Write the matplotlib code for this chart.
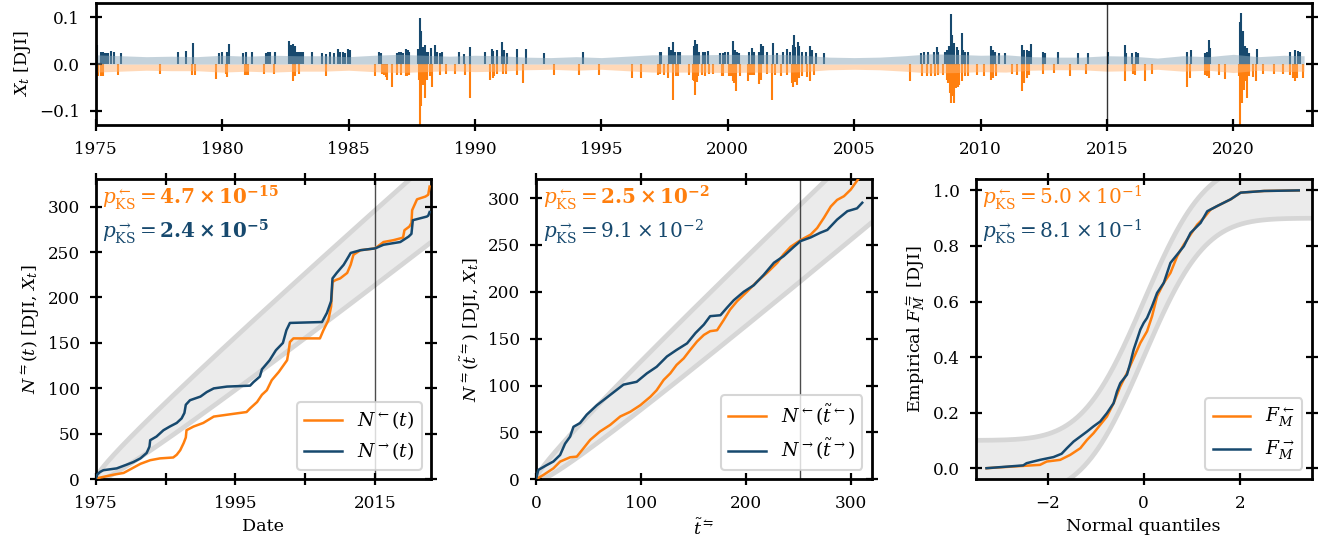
import math
import numpy as np
import matplotlib
matplotlib.use('Agg')
import matplotlib.pyplot as plt

plt.rcParams['font.family'] = ['DejaVu Serif']
plt.rcParams['mathtext.fontset'] = 'dejavuserif'

ORANGE = '#ff7f0e'
BLUE = '#17496e'

# ---------------- top panel data (decimal years, daily log-returns) -------------
pos_ext_t = [1975.04, 1975.20, 1975.27, 1975.33, 1975.40, 1975.47, 1975.62, 1975.73, 1975.99,
             1978.27, 1978.56, 1978.83, 1979.88, 1980.01, 1980.21, 1980.29, 1980.81, 1980.96,
             1981.18, 1981.73, 1981.82, 1981.89, 1982.09, 1982.63, 1982.72, 1982.81, 1982.88,
             1982.98, 1983.05, 1983.11, 1983.19, 1983.55, 1983.94, 1984.11, 1984.27, 1984.44,
             1984.58, 1984.67, 1984.77, 1984.86, 1984.97, 1985.06, 1986.20, 1986.28, 1986.91,
             1987.01, 1987.08, 1987.17, 1987.28, 1987.34, 1987.41, 1987.73, 1987.81, 1987.85,
             1987.88, 1987.95, 1988.02, 1988.10, 1988.16, 1988.25, 1988.43, 1988.52, 1988.60,
             1988.69, 1989.36, 1989.55, 1989.81, 1990.38, 1990.67, 1990.73, 1990.86, 1991.06,
             1991.15, 1991.26, 1991.65, 1992.01, 1992.73, 1994.29, 1997.31, 1997.37, 1997.69,
             1997.74, 1997.85, 1997.91, 1998.05, 1998.11, 1998.68, 1998.72, 1998.80, 1998.86,
             1999.04, 1999.10, 1999.21, 1999.70, 1999.83, 1999.89, 2000.03, 2000.22, 2000.29,
             2000.35, 2000.46, 2000.86, 2000.95, 2001.04, 2001.25, 2001.30, 2001.38, 2001.57,
             2001.78, 2001.96, 2002.17, 2002.36, 2002.46, 2002.57, 2002.61, 2002.66, 2002.79,
             2002.83, 2002.93, 2003.10, 2003.26, 2003.32, 2003.49, 2003.81, 2007.65, 2007.77,
             2007.94, 2008.14, 2008.27, 2008.33, 2008.60, 2008.66, 2008.77, 2008.83, 2008.89,
             2008.97, 2009.06, 2009.12, 2009.26, 2009.32, 2009.39, 2009.49, 2010.42, 2010.48,
             2010.57, 2010.75, 2010.97, 2011.66, 2011.72, 2011.83, 2011.92, 2012.00, 2012.49,
             2012.55, 2013.08, 2013.84, 2014.24, 2015.03, 2015.70, 2015.75, 2015.99, 2016.15,
             2016.23, 2018.17, 2018.33, 2018.87, 2018.96, 2019.02, 2019.09, 2020.28, 2020.32,
             2020.37, 2020.45, 2020.54, 2020.61, 2020.94, 2022.23, 2022.43, 2022.56, 2022.65]
pos_ext_x = [0.040, 0.027, 0.025, 0.023, 0.023, 0.023, 0.029, 0.025, 0.023,
             0.027, 0.028, 0.046, 0.023, 0.025, 0.025, 0.042, 0.023, 0.025,
             0.025, 0.023, 0.025, 0.025, 0.027, 0.050, 0.041, 0.043, 0.038,
             0.027, 0.025, 0.025, 0.025, 0.027, 0.023, 0.022, 0.025, 0.023,
             0.033, 0.025, 0.026, 0.023, 0.032, 0.031, 0.027, 0.023, 0.023,
             0.025, 0.026, 0.023, 0.032, 0.031, 0.025, 0.032, 0.099, 0.071,
             0.032, 0.036, 0.040, 0.025, 0.025, 0.034, 0.040, 0.025, 0.023,
             0.027, 0.025, 0.021, 0.036, 0.025, 0.032, 0.029, 0.031, 0.047,
             0.031, 0.023, 0.032, 0.032, 0.023, 0.025, 0.027, 0.027, 0.036,
             0.031, 0.048, 0.027, 0.027, 0.027, 0.038, 0.052, 0.043, 0.027,
             0.027, 0.025, 0.029, 0.023, 0.023, 0.025, 0.025, 0.050, 0.031,
             0.027, 0.023, 0.025, 0.034, 0.025, 0.027, 0.043, 0.038, 0.025,
             0.046, 0.023, 0.027, 0.032, 0.027, 0.041, 0.063, 0.036, 0.048,
             0.039, 0.027, 0.025, 0.038, 0.031, 0.023, 0.023, 0.023, 0.026,
             0.025, 0.025, 0.036, 0.027, 0.027, 0.031, 0.039, 0.107, 0.062,
             0.045, 0.036, 0.031, 0.067, 0.031, 0.025, 0.027, 0.039, 0.031,
             0.027, 0.023, 0.023, 0.041, 0.031, 0.031, 0.029, 0.043, 0.025,
             0.023, 0.025, 0.023, 0.023, 0.025, 0.041, 0.023, 0.023, 0.027,
             0.023, 0.025, 0.030, 0.023, 0.027, 0.052, 0.034, 0.091, 0.110,
             0.070, 0.039, 0.034, 0.023, 0.032, 0.027, 0.031, 0.029, 0.025]

neg_ext_t = [1975.11, 1975.20, 1975.29, 1975.89, 1977.55, 1978.79, 1978.93, 1979.75, 1980.15,
             1980.21, 1980.90, 1980.96, 1981.04, 1981.64, 1982.07, 1982.81, 1982.89, 1983.05,
             1984.11, 1986.05, 1986.32, 1986.41, 1986.49, 1986.54, 1986.71, 1986.91, 1987.08,
             1987.28, 1987.33, 1987.41, 1987.77, 1987.81, 1987.86, 1987.90, 1987.96, 1988.03,
             1988.10, 1988.23, 1988.29, 1988.60, 1988.85, 1989.22, 1989.61, 1989.81, 1990.60,
             1990.71, 1990.77, 1990.86, 1991.13, 1991.23, 1991.65, 1991.89, 1993.14, 1994.12,
             1994.92, 1996.20, 1996.56, 1997.26, 1997.33, 1997.49, 1997.65, 1997.85, 1997.94,
             1998.02, 1998.47, 1998.61, 1998.67, 1998.71, 1998.77, 1998.84, 1998.97, 1999.10,
             1999.26, 1999.43, 1999.76, 1999.83, 2000.06, 2000.13, 2000.20, 2000.26, 2000.33,
             2000.49, 2000.82, 2000.88, 2000.95, 2001.04, 2001.25, 2001.30, 2001.54, 2001.74,
             2001.87, 2002.10, 2002.36, 2002.53, 2002.60, 2002.66, 2002.75, 2002.83, 2002.93,
             2003.12, 2003.26, 2003.41, 2007.21, 2007.67, 2007.87, 2008.04, 2008.20, 2008.33,
             2008.53, 2008.66, 2008.73, 2008.79, 2008.83, 2008.89, 2008.97, 2009.03, 2009.10,
             2009.16, 2009.26, 2009.39, 2009.52, 2009.85, 2010.15, 2010.42, 2010.51, 2010.60,
             2011.26, 2011.43, 2011.63, 2011.70, 2011.83, 2011.92, 2012.49, 2012.92, 2013.54,
             2014.16, 2015.70, 2016.02, 2016.10, 2016.52, 2016.78, 2018.17, 2018.30, 2018.87,
             2018.96, 2019.05, 2019.42, 2019.68, 2020.21, 2020.28, 2020.34, 2020.41, 2020.47,
             2020.54, 2020.61, 2020.76, 2020.90, 2021.16, 2021.60, 2021.95, 2022.26, 2022.36,
             2022.45, 2022.52, 2022.74]
neg_ext_x = [-0.025, -0.025, -0.026, -0.023, -0.021, -0.024, -0.023, -0.031, -0.022,
             -0.028, -0.023, -0.024, -0.023, -0.022, -0.022, -0.036, -0.025, -0.021,
             -0.025, -0.026, -0.021, -0.024, -0.028, -0.033, -0.048, -0.023, -0.024,
             -0.025, -0.025, -0.023, -0.033, -0.256, -0.090, -0.040, -0.044, -0.072,
             -0.033, -0.025, -0.049, -0.023, -0.021, -0.021, -0.023, -0.072, -0.033,
             -0.030, -0.026, -0.021, -0.021, -0.021, -0.023, -0.040, -0.024, -0.024,
             -0.024, -0.030, -0.029, -0.023, -0.021, -0.023, -0.030, -0.076, -0.025,
             -0.026, -0.023, -0.033, -0.036, -0.065, -0.039, -0.025, -0.023, -0.025,
             -0.021, -0.021, -0.026, -0.025, -0.025, -0.026, -0.035, -0.040, -0.058,
             -0.025, -0.037, -0.023, -0.024, -0.024, -0.042, -0.033, -0.021, -0.076,
             -0.023, -0.025, -0.023, -0.040, -0.048, -0.039, -0.044, -0.030, -0.025,
             -0.028, -0.035, -0.023, -0.035, -0.025, -0.026, -0.025, -0.025, -0.023,
             -0.023, -0.033, -0.040, -0.062, -0.082, -0.069, -0.082, -0.051, -0.048,
             -0.044, -0.037, -0.026, -0.026, -0.023, -0.025, -0.033, -0.030, -0.026,
             -0.021, -0.024, -0.058, -0.040, -0.030, -0.023, -0.021, -0.019, -0.025,
             -0.021, -0.037, -0.021, -0.023, -0.035, -0.021, -0.048, -0.030, -0.023,
             -0.026, -0.030, -0.023, -0.032, -0.026, -0.138, -0.083, -0.055, -0.037,
             -0.072, -0.026, -0.028, -0.035, -0.021, -0.021, -0.021, -0.023, -0.030,
             -0.037, -0.030, -0.030]

band_years = [1975.0, 1976, 1977, 1978, 1979, 1980, 1981, 1982, 1983, 1984, 1985, 1986,
              1987, 1988, 1989, 1990, 1991, 1992, 1993, 1994, 1995, 1996, 1997, 1998,
              1999, 2000, 2001, 2002, 2003, 2004, 2005, 2006, 2007, 2008, 2009, 2010,
              2011, 2012, 2013, 2014, 2015, 2016, 2017, 2018, 2019, 2020, 2021, 2022, 2022.8]
band_pos = [0.020, 0.018, 0.016, 0.017, 0.016, 0.019, 0.017, 0.019, 0.018, 0.018, 0.016, 0.019,
            0.021, 0.019, 0.017, 0.019, 0.018, 0.015, 0.014, 0.016, 0.014, 0.017, 0.020, 0.020,
            0.020, 0.021, 0.020, 0.021, 0.019, 0.015, 0.014, 0.015, 0.018, 0.022, 0.021, 0.019,
            0.020, 0.016, 0.015, 0.015, 0.018, 0.017, 0.013, 0.018, 0.016, 0.021, 0.016, 0.019, 0.018]
band_neg = [-0.017, -0.015, -0.013, -0.014, -0.014, -0.017, -0.015, -0.017, -0.015, -0.015, -0.013, -0.016,
            -0.018, -0.016, -0.014, -0.016, -0.015, -0.012, -0.011, -0.013, -0.011, -0.014, -0.017, -0.017,
            -0.017, -0.018, -0.017, -0.018, -0.016, -0.012, -0.011, -0.012, -0.015, -0.019, -0.018, -0.016,
            -0.017, -0.013, -0.012, -0.012, -0.015, -0.014, -0.011, -0.015, -0.013, -0.018, -0.013, -0.016, -0.015]

# ---------------- bottom-left: counting processes vs date ----------------------
nl_t = [1975.0, 1975.1, 1977.5, 1979.0, 1980.2, 1981.4, 1982.8, 1984.2, 1986.1, 1986.6, 1987.1,
        1987.6, 1987.9, 1988.0, 1989.0, 1990.4, 1991.9, 1994.7, 1996.6, 1997.1, 1998.1, 1998.8,
        1999.5, 2000.2, 2001.2, 2002.4, 2002.6, 2002.8, 2003.3, 2007.1, 2007.6, 2008.3, 2008.7,
        2008.9, 2009.3, 2010.0, 2011.0, 2011.5, 2011.9, 2012.9, 2015.0, 2016.2, 2017.6, 2018.6,
        2019.0, 2019.2, 2019.9, 2020.2, 2020.3, 2021.0, 2022.2, 2022.6, 2022.8]
nl_n = [0, 1, 5, 7, 12, 17, 21, 23, 24, 27, 32,
        40, 46, 54, 58, 62, 69, 72, 74, 78, 85, 93,
        98, 109, 118, 131, 140, 151, 155, 155, 164, 175, 190,
        217, 219, 221, 227, 236, 247, 252, 254, 261, 263, 265,
        266, 274, 278, 282, 296, 308, 311, 313, 322]
nr_t = [1975.0, 1975.2, 1975.6, 1976.1, 1978.0, 1979.4, 1980.4, 1981.4, 1982.3, 1982.7, 1982.8,
        1983.7, 1984.7, 1985.6, 1986.6, 1987.3, 1987.7, 1987.9, 1988.5, 1990.0, 1990.9, 1991.9,
        1993.8, 1997.1, 1997.6, 1998.5, 1998.8, 1999.9, 2000.8, 2001.8, 2002.3, 2002.8, 2007.4,
        2008.1, 2008.7, 2008.9, 2009.5, 2010.5, 2011.2, 2011.5, 2012.9, 2015.0, 2016.2, 2018.6,
        2019.8, 2020.2, 2020.4, 2022.4, 2022.6, 2022.8]
nr_n = [0, 5, 8, 10, 12, 16, 19, 23, 29, 36, 43,
        47, 54, 58, 62, 67, 73, 82, 87, 91, 96, 100,
        102, 103, 107, 113, 121, 131, 142, 150, 164, 172, 173,
        183, 196, 221, 227, 236, 245, 249, 252, 254, 258, 261,
        267, 270, 285, 289, 290, 294]

# ---------------- bottom-middle: counting processes vs transformed time ---------
tl = [0, 7, 16.6, 23, 32.5, 38.9, 45.2, 51.6, 61, 70.7, 80.3, 89.8, 99.4, 109, 115, 121.7, 128,
      134, 140.8, 147, 153.5, 160, 166, 172.6, 179, 185, 191.7, 201, 210.8, 220, 230, 236, 242.7,
      252, 261.8, 268, 274.5, 281, 287, 293.6, 300, 307]
nl_tt = [0, 4.6, 11.7, 18.9, 23.5, 24.2, 33, 42, 51, 58, 67, 72, 79, 88, 95, 106, 113,
         122, 129, 138, 147, 154, 158, 159, 170, 181, 190, 200, 211, 220, 231, 240, 248,
         255, 261, 268, 279, 291, 298, 302, 309, 320]
tr = [0, 2.2, 10, 16.6, 23, 27.7, 32.5, 35.7, 42, 48.4, 58, 70.7, 83.4, 96, 105.7, 115, 124.8,
      134, 144, 152, 160, 166, 175.8, 182, 188.5, 198, 207.6, 217, 226.8, 236, 245.8, 252,
      261.8, 271, 277.7, 287, 296.8, 306, 311]
nr_tt = [0, 10, 15, 19, 26, 38, 45.5, 56, 60, 69, 79, 90, 101, 104, 113, 120, 131,
         138, 145, 156, 165, 174, 175, 183, 191, 200, 207, 218, 231, 238, 248, 254,
         258, 263, 266, 277, 286, 289, 295]

# ---------------- bottom-right: empirical CDFs vs normal quantiles --------------
ql = [-3.275, -2.16, -2.02, -1.74, -1.53, -1.32, -1.18, -1.045, -0.906, -0.767, -0.627, -0.488,
      -0.348, -0.209, -0.07, 0.07, 0.174, 0.279, 0.418, 0.557, 0.697, 0.836, 0.976, 1.115,
      1.254, 1.394, 1.603, 1.812, 2.02, 2.51, 3.23]
fl = [0.0, 0.012, 0.024, 0.030, 0.048, 0.072, 0.102, 0.126, 0.156, 0.186, 0.234, 0.294,
      0.343, 0.397, 0.451, 0.493, 0.547, 0.619, 0.667, 0.703, 0.763, 0.805, 0.841, 0.877,
      0.901, 0.931, 0.950, 0.968, 0.992, 0.998, 1.0]
qr = [-3.275, -2.51, -2.44, -2.16, -1.88, -1.71, -1.60, -1.46, -1.32, -1.18, -1.05, -0.906,
      -0.767, -0.627, -0.557, -0.488, -0.348, -0.279, -0.209, -0.139, -0.070, 0.0, 0.07, 0.174,
      0.279, 0.418, 0.557, 0.697, 0.836, 0.976, 1.185, 1.324, 1.533, 1.812, 2.02, 2.51, 3.23]
fr = [0.0, 0.010, 0.018, 0.030, 0.040, 0.052, 0.072, 0.096, 0.114, 0.132, 0.150, 0.168,
      0.198, 0.234, 0.276, 0.306, 0.337, 0.379, 0.427, 0.463, 0.499, 0.523, 0.541, 0.583,
      0.631, 0.667, 0.739, 0.769, 0.799, 0.847, 0.883, 0.925, 0.944, 0.968, 0.992, 0.998, 1.0]

p_text = [
    (r'$p^{\leftarrow}_{\mathrm{KS}} = \mathbf{4.7\times10^{-15}}$',
     r'$p^{\rightarrow}_{\mathrm{KS}} = \mathbf{2.4\times10^{-5}}$'),
    (r'$p^{\leftarrow}_{\mathrm{KS}} = \mathbf{2.5\times10^{-2}}$',
     r'$p^{\rightarrow}_{\mathrm{KS}} = 9.1\times10^{-2}$'),
    (r'$p^{\leftarrow}_{\mathrm{KS}} = 5.0\times10^{-1}$',
     r'$p^{\rightarrow}_{\mathrm{KS}} = 8.1\times10^{-1}$'),
]

# band parameters (theoretical reference)
RATE = 6.37      # events per year under constant rate
ZQ = 2.576       # band width in Poisson std
KS_W = 0.10      # KS band half width
SPLIT_YEAR = 2015
SPLIT_TT = 252

# ---------------------------------------------------------------------------
fig = plt.figure(figsize=(13.34, 5.44), dpi=100)
W, H = 1334, 544

def axes_px(x0, y0, x1, y1):
    return fig.add_axes([x0 / W, 1 - y1 / H, (x1 - x0) / W, (y1 - y0) / H])

ax0 = axes_px(95.7, 3.3, 1311.7, 125)
axL = axes_px(95.7, 179.3, 431, 479.3)
axM = axes_px(536, 179.3, 871.7, 479.3)
axR = axes_px(975.7, 179.3, 1311.7, 479.3)

TICK = 12.2
LAB = 12.6
PFS = 14.4
LFS = 13.5
for ax in (ax0, axL, axM, axR):
    for s in ax.spines.values():
        s.set_linewidth(2)
    ax.tick_params(direction='inout', length=9, width=1.6, labelsize=TICK, pad=7,
                   top=(ax is not ax0), right=True)

# ---- top panel
ax0.vlines(pos_ext_t, 0, pos_ext_x, color=BLUE, lw=1.5, zorder=1)
ax0.vlines(neg_ext_t, 0, neg_ext_x, color=ORANGE, lw=1.5, zorder=1)
ax0.fill_between(band_years, 0, band_pos, color='#8ba7b9', alpha=0.5, lw=0, zorder=2)
ax0.fill_between(band_years, band_neg, 0, color='#ffb371', alpha=0.5, lw=0, zorder=2)
ax0.axvline(SPLIT_YEAR, color='black', lw=1, alpha=0.8, zorder=3)
ax0.set_xlim(1975.0, 2023.1)
ax0.set_ylim(-0.13, 0.13)
ax0.set_xticks(list(range(1975, 2021, 5)))
ax0.set_xticklabels([str(y) for y in range(1975, 2021, 5)])
ax0.set_yticks([-0.1, 0.0, 0.1])
ax0.set_yticklabels(['\u22120.1', '0.0', '0.1'])
ax0.set_ylabel(r'$X_t$ [DJI]', fontsize=LAB)

BAND_FILL = '#ebebeb'
BAND_EDGE = '#d6d6d6'

def draw_band(ax, x, lo, hi):
    ax.fill_between(x, lo, hi, color=BAND_FILL, lw=0, zorder=0)
    ax.plot(x, lo, color=BAND_EDGE, lw=3.4, zorder=0.5, solid_capstyle='butt')
    ax.plot(x, hi, color=BAND_EDGE, lw=3.4, zorder=0.5, solid_capstyle='butt')

# ---- bottom-left
yrs = np.linspace(1975, 2023, 400)
m = RATE * (yrs - 1975)
draw_band(axL, yrs, m - ZQ * np.sqrt(m), m + ZQ * np.sqrt(m))
axL.plot(nl_t, nl_n, color=ORANGE, lw=1.8, label=r'$N^{\leftarrow}(t)$', zorder=3)
axL.plot(nr_t, nr_n, color=BLUE, lw=1.8, label=r'$N^{\rightarrow}(t)$', zorder=3)
axL.axvline(SPLIT_YEAR, color='black', lw=1, alpha=0.7, zorder=2)
axL.set_xlim(1975, 2023)
axL.set_ylim(0, 330)
axL.set_xticks([1975, 1985, 1995, 2005, 2015])
axL.set_xticklabels(['1975', '', '1995', '', '2015'])
axL.set_yticks(range(0, 301, 50))
axL.set_xlabel('Date', fontsize=LAB)
axL.set_ylabel(r'$N^{\leftrightharpoons}(t)$ [DJI, $X_t$]', fontsize=LAB)

# ---- bottom-middle
tt = np.linspace(0, 330, 400)
draw_band(axM, tt, tt - ZQ * np.sqrt(tt), tt + ZQ * np.sqrt(tt))
axM.plot(tl, nl_tt, color=ORANGE, lw=1.8, label=r'$N^{\leftarrow}(\tilde{t}^{\leftarrow})$', zorder=3)
axM.plot(tr, nr_tt, color=BLUE, lw=1.8, label=r'$N^{\rightarrow}(\tilde{t}^{\rightarrow})$', zorder=3)
axM.axvline(SPLIT_TT, color='black', lw=1, alpha=0.7, zorder=2)
axM.set_xlim(0, 320)
axM.set_ylim(0, 320)
axM.set_xticks([0, 100, 200, 300])
axM.set_yticks(range(0, 301, 50))
axM.set_xlabel(r'$\tilde{t}^{\leftrightharpoons}$', fontsize=LAB)
axM.set_ylabel(r'$N^{\leftrightharpoons}(\tilde{t}^{\leftrightharpoons})$ [DJI, $X_t$]', fontsize=LAB)

# ---- bottom-right
qq = np.linspace(-3.6, 3.6, 400)
phi = np.array([0.5 * (1 + math.erf(v / math.sqrt(2))) for v in qq])
draw_band(axR, qq, phi - KS_W, phi + KS_W)
axR.plot(ql, fl, color=ORANGE, lw=1.8, label=r'$F^{\leftarrow}_{M}$', zorder=3)
axR.plot(qr, fr, color=BLUE, lw=1.8, label=r'$F^{\rightarrow}_{M}$', zorder=3)
axR.set_xlim(-3.5, 3.5)
axR.set_ylim(-0.04, 1.04)
axR.set_xticks([-2, 0, 2])
axR.set_xticklabels(['\u22122', '0', '2'])
axR.set_yticks([0, 0.2, 0.4, 0.6, 0.8, 1.0])
axR.set_yticklabels(['0.0', '0.2', '0.4', '0.6', '0.8', '1.0'])
axR.set_xlabel('Normal quantiles', fontsize=LAB)
axR.set_ylabel(r'Empirical $F^{\leftrightharpoons}_{M}$ [DJI]', fontsize=LAB)

for ax, (t1, t2) in zip((axL, axM, axR), p_text):
    ax.text(0.02, 0.985, t1, transform=ax.transAxes, color=ORANGE, fontsize=PFS,
            va='top', ha='left', zorder=5)
    ax.text(0.02, 0.875, t2, transform=ax.transAxes, color=BLUE, fontsize=PFS,
            va='top', ha='left', zorder=5)
    leg = ax.legend(loc='lower right', fontsize=LFS, framealpha=0.8, edgecolor='#cccccc',
                    handlelength=2.0)
    leg.get_frame().set_linewidth(1.5)

fig.savefig('out.png', dpi=100)
